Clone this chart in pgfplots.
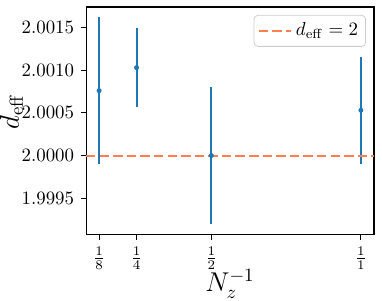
\documentclass[border=0pt]{standalone}
\usepackage{pgfplots}
\pgfplotsset{compat=1.18}
\definecolor{mplblue}{HTML}{1F77B4}
\definecolor{dcoral}{RGB}{255,127,80}
\begin{document}
\begin{tikzpicture}
\begin{axis}[
  name=ax,
  scale only axis,
  width=152.6pt, height=120.8pt,
  xmin=0.08125, xmax=1.04375,
  ymin=1.99907, ymax=2.00174,
  xtick={0.125,0.25,0.5,1},
  xticklabels={$\frac{1}{8}$,$\frac{1}{4}$,$\frac{1}{2}$,$\frac{1}{1}$},
  ytick={1.9995,2.0000,2.0005,2.0010,2.0015},
  yticklabel style={/pgf/number format/.cd, fixed, fixed zerofill, precision=4},
  scaled y ticks=false,
  tick align=outside, tick pos=left, major tick length=2.8pt,
  tick style={line width=0.5pt, black},
  axis line style={line width=0.55pt},
  xlabel={$N_z^{-1}$}, ylabel={$d_{\mathrm{eff}}$},
  xlabel style={font=\Large, at={(axis description cs:0.5,0)}, anchor=center, yshift=-26pt},
  ylabel style={font=\Large, inner sep=0pt, at={(axis description cs:0,0.5)}, anchor=center, yshift=39.5pt, xshift=5pt},
  legend style={at={(0.972,0.965)}, anchor=north east, draw=black!20, rounded corners=2pt, font=\normalsize, inner sep=2pt},
  legend cell align=left,
]
\addplot[mplblue, only marks, mark=*, mark size=1.1pt, forget plot,
  error bars/.cd, y dir=both, y explicit, error bar style={line width=1.05pt, color=mplblue}, error mark=none]
  coordinates {
  (0.125,2.00076) +- (0,0.00086)
  (0.25,2.00103) +- (0,0.00046)
  (0.5,2.00000) +- (0,0.00080)
  (1,2.00053) +- (0,0.00063)
  };
\addplot[draw=dcoral, line width=1.1pt, dash pattern=on 5pt off 2.2pt]
  coordinates {(0.08125,2.0000) (1.04375,2.0000)};
\addlegendentry{$d_{\mathrm{eff}}=2$}
\end{axis}
\pgfresetboundingbox
\path[use as bounding box] ([shift={(-45.6pt,-35pt)}]ax.south west) rectangle ([shift={(4.24pt,3.7pt)}]ax.north east);
\end{tikzpicture}
\end{document}
